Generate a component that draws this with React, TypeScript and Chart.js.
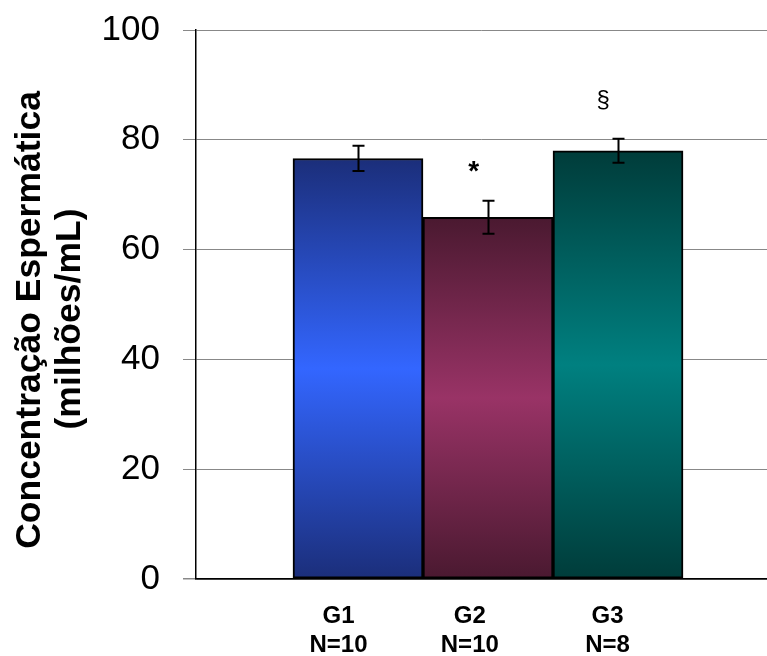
import React, { useEffect, useRef } from 'react';
import { Chart, registerables } from 'chart.js';

Chart.register(...registerables);

// ---- data ----
const groups = ['G1', 'G2', 'G3'];
const groupSizes = ['N=10', 'N=10', 'N=8'];
const barPositions = [1, 2, 3];
const means = [76.6, 65.9, 78.0];
const errors = [2.3, 3.0, 2.2];
const labelPositions = [0.85, 1.86, 2.92];
const markerText = ['*', '§'];
const markerX = [1.89, 2.885];
const markerY = [74.0, 87.2];
const yTicks = [0, 20, 40, 60, 80, 100];
const yTitle = ['Concentração Espermática', '(milhões/mL)'];
const darkColors = ['#1b2e7a', '#4a1930', '#003c3a'];
const lightColors = ['#3366ff', '#993366', '#008080'];

const FONT = '"Liberation Sans", Arial, sans-serif';

const zeroPad = (s: any) => {
  s.paddingLeft = 0;
  s.paddingRight = 0;
  s.paddingTop = 0;
  s.paddingBottom = 0;
};

const errorBarPlugin = {
  id: 'errorBars',
  afterDatasetsDraw(chart: any) {
    const { ctx, scales } = chart;
    const xs = scales.x;
    const ys = scales.y;
    ctx.save();
    ctx.strokeStyle = '#000';
    ctx.lineWidth = 2;
    barPositions.forEach((p, i) => {
      const x = Math.round(xs.getPixelForValue(p)) + 0.5;
      const yt = ys.getPixelForValue(means[i] + errors[i]);
      const yb = ys.getPixelForValue(means[i] - errors[i]);
      ctx.beginPath();
      ctx.moveTo(x, yt);
      ctx.lineTo(x, yb);
      ctx.moveTo(x - 6, yt);
      ctx.lineTo(x + 6, yt);
      ctx.moveTo(x - 6, yb);
      ctx.lineTo(x + 6, yb);
      ctx.stroke();
    });
    // significance markers
    ctx.fillStyle = '#000';
    ctx.textAlign = 'center';
    ctx.textBaseline = 'middle';
    markerText.forEach((t, i) => {
      ctx.font = t === '*' ? `bold 28px ${FONT}` : `24px ${FONT}`;
      ctx.fillText(t, xs.getPixelForValue(markerX[i]), ys.getPixelForValue(markerY[i]));
    });
    ctx.restore();
  },
  afterDraw(chart: any) {
    const { ctx } = chart;
    ctx.save();
    ctx.fillStyle = '#000';
    ctx.font = `bold 35.5px ${FONT}`;
    ctx.textAlign = 'center';
    ctx.textBaseline = 'middle';
    const pos = [
      [30, 320],
      [70, 319],
    ];
    yTitle.forEach((t, i) => {
      ctx.save();
      ctx.translate(pos[i][0], pos[i][1]);
      ctx.rotate(-Math.PI / 2);
      ctx.fillText(t, 0, 0);
      ctx.restore();
    });
    ctx.restore();
  },
};

export default function App() {
  const ref = useRef<HTMLCanvasElement>(null);

  useEffect(() => {
    if (!ref.current) return;
    const chart = new Chart(ref.current, {
      type: 'bar',
      data: {
        datasets: [
          {
            data: barPositions.map((x, i) => ({ x, y: means[i] })),
            backgroundColor: (c: any) => {
              const i = c.dataIndex ?? 0;
              const ys = c.chart.scales?.y;
              if (!ys) return lightColors[i];
              const top = ys.getPixelForValue(means[i]);
              const bottom = ys.getPixelForValue(0);
              if (!isFinite(top) || !isFinite(bottom) || top === bottom) return lightColors[i];
              const g = c.chart.ctx.createLinearGradient(0, top, 0, bottom);
              g.addColorStop(0, darkColors[i]);
              g.addColorStop(0.5, lightColors[i]);
              g.addColorStop(1, darkColors[i]);
              return g;
            },
            borderColor: '#000',
            borderWidth: 2,
            borderSkipped: false,
            barPercentage: 1,
            categoryPercentage: 1,
          } as any,
        ],
      },
      options: {
        responsive: false,
        animation: false,
        layout: { padding: { top: 30, right: 0, left: 0, bottom: 0 } },
        plugins: {
          legend: { display: false },
          tooltip: { enabled: false },
        },
        scales: {
          x: {
            type: 'linear',
            offset: false,
            min: -0.246,
            max: 4.146,
            grid: { display: false, drawTicks: false, offset: false },
            border: { display: true, color: '#000', width: 1.5 },
            afterBuildTicks: (s: any) => {
              s.ticks = labelPositions.map((v) => ({ value: v }));
            },
            afterFit: (s: any) => {
              s.height = 77;
              zeroPad(s);
            },
            ticks: {
              autoSkip: false,
              maxRotation: 0,
              minRotation: 0,
              padding: 23,
              color: '#000',
              font: { family: FONT, size: 24, weight: 'bold', lineHeight: 1.2 },
              callback: (_v: any, i: number) => [groups[i], groupSizes[i]],
            },
          },
          y: {
            min: 0,
            max: 100,
            afterBuildTicks: (s: any) => {
              s.ticks = yTicks.map((v) => ({ value: v }));
            },
            afterFit: (s: any) => {
              s.width = 196;
              zeroPad(s);
            },
            grid: {
              color: (c: any) => (c.tick && c.tick.value === 0 ? '#000' : '#888'),
              tickColor: '#888',
              tickLength: 13,
              lineWidth: (c: any) => (c.tick && c.tick.value === 0 ? 1.5 : 1),
            },
            border: { color: '#000', width: 1.5 },
            ticks: {
              padding: 23,
              color: '#000',
              font: { family: FONT, size: 35 },
            },
          },
        } as any,
      },
      plugins: [errorBarPlugin],
    });
    return () => chart.destroy();
  }, []);

  return (
    <div style={{ position: 'absolute', left: 0, top: 0, width: 767, height: 656, background: '#fff' }}>
      <canvas ref={ref} width={767} height={656} />
    </div>
  );
}
